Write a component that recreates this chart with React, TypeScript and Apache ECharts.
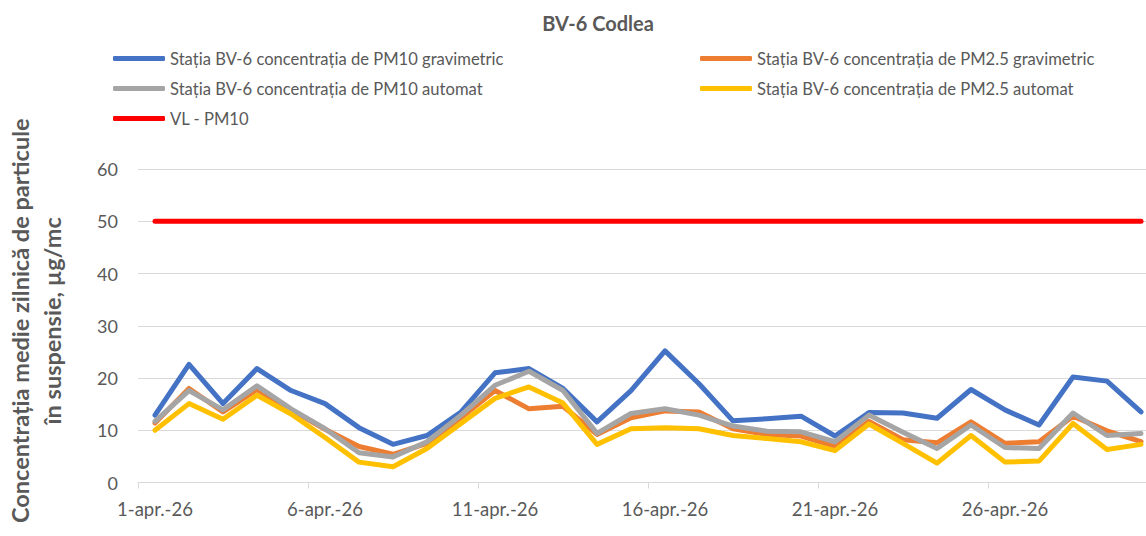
import React, { useEffect, useRef } from "react";
import * as echarts from "echarts";

const dayLabels: string[] = [
  "1-apr.-26", "2-apr.-26", "3-apr.-26", "4-apr.-26", "5-apr.-26", "6-apr.-26",
  "7-apr.-26", "8-apr.-26", "9-apr.-26", "10-apr.-26", "11-apr.-26", "12-apr.-26",
  "13-apr.-26", "14-apr.-26", "15-apr.-26", "16-apr.-26", "17-apr.-26", "18-apr.-26",
  "19-apr.-26", "20-apr.-26", "21-apr.-26", "22-apr.-26", "23-apr.-26", "24-apr.-26",
  "25-apr.-26", "26-apr.-26", "27-apr.-26", "28-apr.-26", "29-apr.-26", "30-apr.-26",
];

const pm10Grav: number[] = [
  12.9, 22.6, 15.1, 21.8, 17.6, 15.1, 10.5, 7.3, 9.0, 13.5,
  21.0, 21.8, 18.0, 11.6, 17.6, 25.2, 18.9, 11.8, 12.2, 12.7,
  8.9, 13.4, 13.3, 12.3, 17.8, 13.9, 11.0, 20.2, 19.4, 13.5,
];
const pm25Grav: number[] = [
  11.4, 18.0, 13.5, 17.8, 13.9, 10.2, 6.9, 5.4, 7.5, 12.4,
  17.6, 14.1, 14.6, 9.2, 12.4, 13.7, 13.5, 10.3, 9.2, 8.9,
  6.9, 11.7, 8.2, 7.6, 11.6, 7.5, 7.8, 12.7, 9.9, 7.8,
];
const pm10Auto: number[] = [
  11.7, 17.6, 13.9, 18.5, 14.1, 10.3, 5.7, 4.9, 7.8, 12.9,
  18.6, 21.3, 17.6, 9.4, 13.2, 14.1, 12.9, 10.8, 9.8, 9.7,
  7.8, 12.9, 9.6, 6.5, 11.0, 6.7, 6.5, 13.3, 9.0, 9.4,
];
const pm25Auto: number[] = [
  10.0, 15.1, 12.1, 16.7, 13.1, 8.6, 3.9, 3.0, 6.5, 11.3,
  16.1, 18.3, 15.2, 7.3, 10.3, 10.5, 10.3, 9.0, 8.4, 7.8,
  6.1, 11.2, 7.5, 3.7, 9.0, 3.9, 4.1, 11.3, 6.3, 7.3,
];
const limitPm10: number[] = [
  50, 50, 50, 50, 50, 50, 50, 50, 50, 50,
  50, 50, 50, 50, 50, 50, 50, 50, 50, 50,
  50, 50, 50, 50, 50, 50, 50, 50, 50, 50,
];

const seriesNames: string[] = [
  "Stația BV-6 concentrația de PM10 gravimetric",
  "Stația BV-6 concentrația de PM2.5 gravimetric",
  "Stația BV-6 concentrația de PM10 automat",
  "Stația BV-6 concentrația de PM2.5 automat",
  "VL - PM10",
];
const seriesColors: string[] = ["#4472C4", "#ED7D31", "#A5A5A5", "#FFC000", "#FF0000"];
const seriesData: number[][] = [pm10Grav, pm25Grav, pm10Auto, pm25Auto, limitPm10];

const titleText = "BV-6 Codlea";
const yAxisTitle = "Concentrația medie zilnică de particule\nîn suspensie, µg/mc";

const FONT = "Lato, 'Open Sans', sans-serif";
const TEXT_COLOR = "#595959";
const GRID_COLOR = "#D9D9D9";

export default function App() {
  const ref = useRef<HTMLDivElement>(null);

  useEffect(() => {
    if (!ref.current) return;
    const chart = echarts.init(ref.current, undefined, { renderer: "svg" });
    const legendCommon = {
      orient: "vertical" as const,
      top: 50,
      padding: 0,
      itemGap: 13,
      itemWidth: 52,
      itemHeight: 5,
      icon: "roundRect",
      selectedMode: false,
      textStyle: { fontFamily: FONT, fontSize: 16.6, color: TEXT_COLOR, lineHeight: 17 },
    };
    chart.setOption({
      animation: false,
      backgroundColor: "#FFFFFF",
      title: {
        text: titleText,
        left: 598,
        top: 13,
        padding: 0,
        textAlign: "center",
        textStyle: { fontFamily: FONT, fontSize: 20, fontWeight: "bold", color: TEXT_COLOR },
      },
      legend: [
        { ...legendCommon, left: 113, data: [seriesNames[0], seriesNames[2], seriesNames[4]] },
        { ...legendCommon, left: 700, data: [seriesNames[1], seriesNames[3]] },
      ],
      grid: {
        left: 138,
        right: 0,
        top: 169,
        bottom: 53.5,
        containLabel: false,
        outerBoundsMode: "none",
      },
      xAxis: {
        type: "category",
        data: dayLabels,
        boundaryGap: true,
        axisLine: { show: true, lineStyle: { color: GRID_COLOR, width: 1 } },
        axisTick: { show: true, interval: 4, length: 6, lineStyle: { color: GRID_COLOR } },
        axisLabel: {
          interval: 4,
          margin: 17,
          fontFamily: FONT,
          fontSize: 18.5,
          color: TEXT_COLOR,
        },
        splitLine: { show: false },
      },
      yAxis: {
        type: "value",
        min: 0,
        max: 60,
        interval: 10,
        name: yAxisTitle,
        nameLocation: "middle",
        nameGap: 70,
        nameTextStyle: {
          fontFamily: FONT,
          fontSize: 23.5,
          fontWeight: "bold",
          color: TEXT_COLOR,
          lineHeight: 32,
          padding: [0, 0, 0, 10],
        },
        axisLine: { show: false },
        axisTick: { show: false },
        axisLabel: { margin: 20, fontFamily: FONT, fontSize: 18, color: TEXT_COLOR },
        splitLine: { show: true, lineStyle: { color: GRID_COLOR, width: 1 } },
      },
      series: seriesNames.map((name, i) => ({
        name,
        type: "line",
        data: seriesData[i],
        showSymbol: false,
        symbol: "none",
        color: seriesColors[i],
        lineStyle: { color: seriesColors[i], width: 5, cap: "round", join: "round" },
        z: 2 + i,
      })),
    });
    return () => chart.dispose();
  }, []);

  return (
    <div
      ref={ref}
      style={{ position: "fixed", left: 0, top: 0, width: 1158, height: 536 }}
    />
  );
}
